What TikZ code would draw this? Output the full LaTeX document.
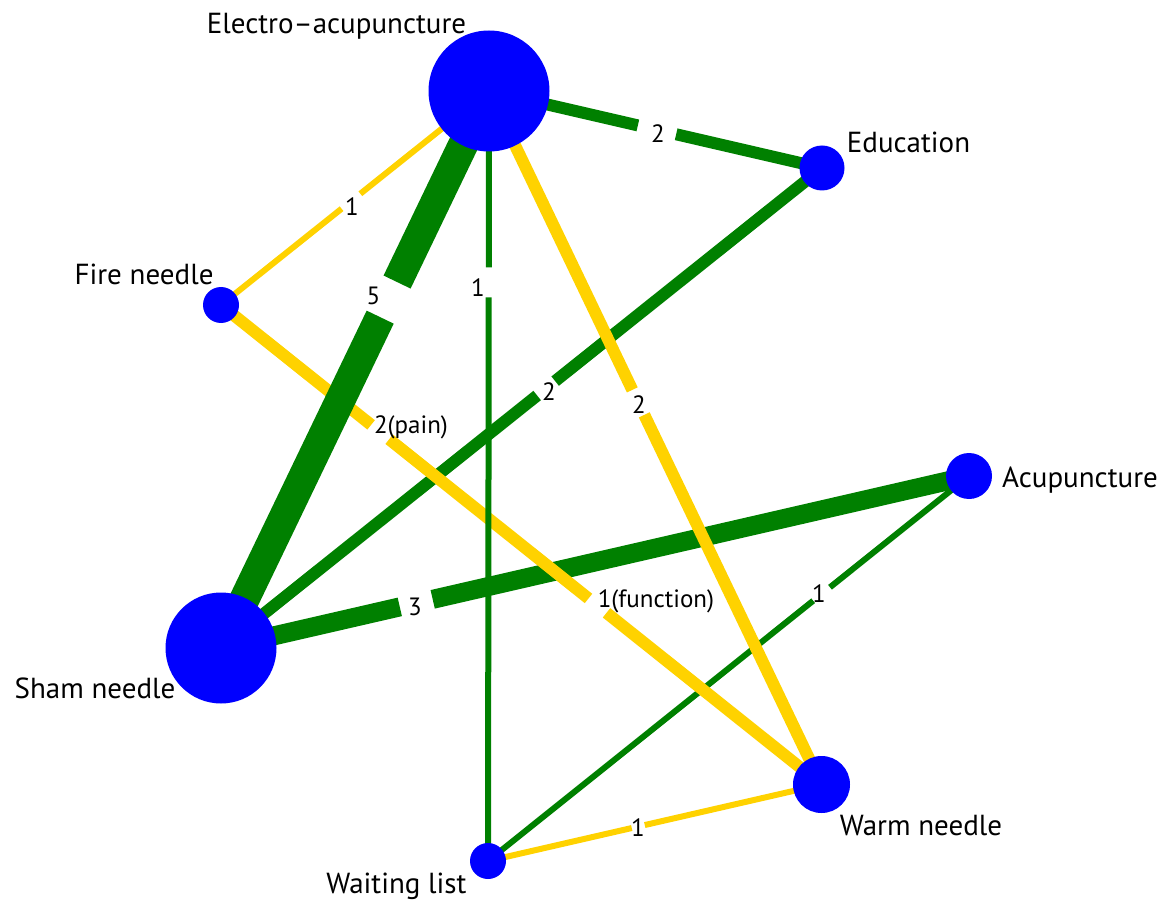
\documentclass[tikz,border=0pt]{standalone}
\usepackage{fontspec}
\setmainfont{PT Sans}
\usetikzlibrary{calc}
\pgfdeclarelayer{bg}
\pgfsetlayers{bg,main}
\definecolor{nblue}{RGB}{0,0,255}
\definecolor{egreen}{RGB}{0,128,0}
\definecolor{eyellow}{RGB}{255,210,0}
\tikzset{
  trt/.style={circle,fill=nblue,draw=none,inner sep=0pt},
  nlab/.style={anchor=base,inner sep=0pt,font=\fontsize{29}{34}\selectfont},
  elab/.style={anchor=base,inner sep=0pt,font=\fontsize{25}{30}\selectfont},
  gw/.style={draw=egreen,line width=#1},
  yw/.style={draw=eyellow,line width=#1},
}
\begin{document}
\begin{tikzpicture}[x=1pt,y=-1pt]
\useasboundingbox (0,0) rectangle (1168,904);
% treatment nodes
\node[trt,minimum size=121pt] (ea) at (489,91) {};
\node[trt,minimum size=45pt] (edu) at (822,168) {};
\node[trt,minimum size=36pt] (fire) at (221,305) {};
\node[trt,minimum size=46pt] (acu) at (969,476) {};
\node[trt,minimum size=111pt] (sham) at (221,648) {};
\node[trt,minimum size=57pt] (warm) at (821.5,784.5) {};
\node[trt,minimum size=36pt] (wait) at (488,861) {};
% node labels
\node[nlab] (lea) at (336.5,34) {Electro–acupuncture};
\node[nlab] (ledu) at (908.5,153) {Education};
\node[nlab] (lfire) at (144,284) {Fire needle};
\node[nlab] (lacu) at (1080,487) {Acupuncture};
\node[nlab] (lsham) at (95,698) {Sham needle};
\node[nlab] (lwarm) at (921,835) {Warm needle};
\node[nlab] (lwait) at (396.5,893) {Waiting list};
% edges (behind the nodes)
\begin{pgfonlayer}{bg}
\path[gw=19pt] (sham.center) -- ($(sham.center)!0.239!(acu.center)$) ($(sham.center)!0.283!(acu.center)$) -- (acu.center);
\path[gw=6pt] (acu.center) -- ($(acu.center)!0.289!(wait.center)$) ($(acu.center)!0.324!(wait.center)$) -- (wait.center);
\path[gw=12pt] (edu.center) -- ($(edu.center)!0.444!(sham.center)$) ($(edu.center)!0.474!(sham.center)$) -- (sham.center);
\path[yw=6pt] (wait.center) -- ($(wait.center)!0.431!(warm.center)$) ($(wait.center)!0.47!(warm.center)$) -- (warm.center);
\path[yw=12pt] (fire.center) -- ($(fire.center)!0.25!(warm.center)$) ($(fire.center)!0.28!(warm.center)$) -- ($(fire.center)!0.612!(warm.center)$) ($(fire.center)!0.642!(warm.center)$) -- (warm.center);
\path[yw=12pt] (ea.center) -- ($(ea.center)!0.431!(warm.center)$) ($(ea.center)!0.467!(warm.center)$) -- (warm.center);
\path[gw=6pt] (ea.center) -- ($(ea.center)!0.229!(wait.center)$) ($(ea.center)!0.268!(wait.center)$) -- (wait.center);
\path[yw=6pt] (ea.center) -- ($(ea.center)!0.48!(fire.center)$) ($(ea.center)!0.55!(fire.center)$) -- (fire.center);
\path[gw=12pt] (ea.center) -- ($(ea.center)!0.447!(edu.center)$) ($(ea.center)!0.562!(edu.center)$) -- (edu.center);
\path[gw=30pt] (ea.center) -- ($(ea.center)!0.343!(sham.center)$) ($(ea.center)!0.406!(sham.center)$) -- (sham.center);
\end{pgfonlayer}
% edge labels
\node[elab] (l1) at (658,143) {2};
\node[elab] (l2) at (352,216) {1};
\node[elab] (l3) at (373.5,305) {5};
\node[elab] (l4) at (478,297) {1};
\node[elab] (l5) at (639,413) {2};
\node[elab] (l6) at (549,400) {2};
\node[elab] (l7) at (411,433) {2(pain)};
\node[elab] (l8) at (656,607) {1(function)};
\node[elab] (l9) at (415,615) {3};
\node[elab] (l10) at (819,602) {1};
\node[elab] (l11) at (638,836) {1};
\end{tikzpicture}
\end{document}
